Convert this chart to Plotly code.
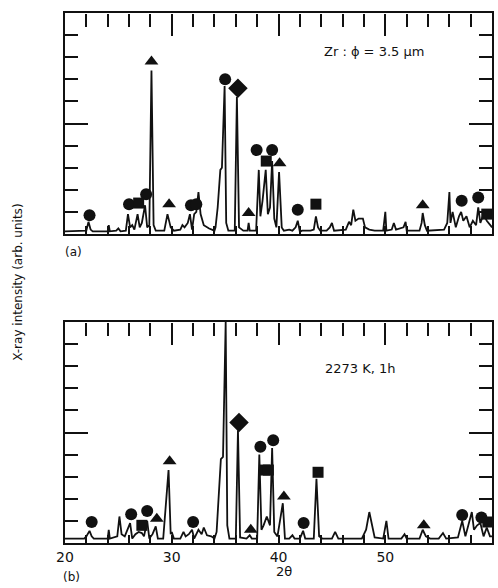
import plotly.graph_objects as go

# ---------------- data: panel (a) Zr powder, phi = 3.5 um ----------------
a_two_theta = [20.0, 21.5, 22.0, 22.2, 22.4, 22.6, 23.5, 24.0, 24.1, 24.2, 24.8, 25.0, 25.2,
               25.7, 25.9, 26.1, 26.3, 26.5, 26.8, 27.0, 27.2, 27.5, 27.7, 27.9, 28.1, 28.3,
               28.5, 29.3, 29.6, 29.9, 30.2, 30.8, 31.0, 31.2, 31.5, 31.7, 31.9, 32.1, 32.3,
               32.5, 32.7, 33.0, 33.5, 34.0, 34.1, 34.3, 34.55, 34.7, 34.95, 35.1, 35.3, 35.9,
               36.1, 36.3, 36.7, 37.1, 37.2, 37.3, 37.9, 38.15, 38.3, 38.5, 38.8, 39.0, 39.2,
               39.4, 39.6, 39.8, 40.05, 40.3, 40.5, 41.0, 41.3, 41.6, 41.8, 42.0, 42.2, 43.0,
               43.3, 43.5, 43.7, 43.9, 44.5, 44.8, 45.0, 45.2, 46.3, 46.6, 46.8, 47.0, 47.2,
               47.5, 47.9, 48.1, 48.5, 49.0, 49.8, 50.0, 50.1, 50.6, 50.8, 51.0, 51.7, 51.9,
               52.0, 53.2, 53.4, 53.5, 53.7, 53.9, 55.5, 55.8, 56.0, 56.1, 56.3, 56.6, 56.9,
               57.1, 57.3, 57.6, 57.9, 58.2, 58.5, 58.7, 58.9, 59.2, 59.5, 59.8, 60.0]
a_intensity = [0.12, 0.12, 0.15, 0.55, 0.2, 0.12, 0.12, 0.12, 0.4, 0.12, 0.15, 0.25, 0.12,
               0.15, 0.9, 0.3, 0.4, 0.2, 0.9, 0.3, 0.5, 1.3, 0.3, 0.4, 7.4, 0.4,
               0.15, 0.15, 0.9, 0.3, 0.15, 0.2, 0.4, 0.3, 0.5, 0.9, 0.2, 0.9, 1.0,
               1.9, 0.9, 0.4, 0.25, 0.15, 0.3, 1.2, 2.9, 3.0, 6.7, 0.5, 0.15, 0.15,
               6.2, 0.3, 0.15, 0.15, 0.5, 0.15, 0.15, 2.9, 0.8, 1.5, 2.9, 0.9, 1.2,
               3.3, 0.7, 0.3, 2.8, 0.3, 0.15, 0.2, 0.15, 0.3, 0.6, 0.1, 0.15, 0.15,
               0.2, 0.8, 0.3, 0.15, 0.15, 0.3, 0.5, 0.15, 0.2, 0.55, 0.4, 1.1, 0.6,
               0.7, 0.7, 0.3, 0.2, 0.15, 0.15, 1.0, 0.15, 0.2, 0.5, 0.2, 0.3, 0.55,
               0.15, 0.15, 0.5, 0.95, 0.4, 0.15, 0.2, 0.5, 1.9, 0.5, 1.0, 0.3, 0.8,
               1.0, 0.6, 0.8, 0.3, 0.6, 0.4, 1.2, 0.5, 0.9, 0.6, 0.4, 0.3]

a_circle_x = [22.3, 26.0, 27.6, 31.8, 32.3, 35.0, 37.95, 39.4, 41.8, 57.15, 58.7]
a_circle_y = [0.85, 1.35, 1.8, 1.3, 1.35, 7.0, 3.8, 3.8, 1.1, 1.5, 1.65]
a_square_x = [26.9, 38.85, 43.5, 59.5]
a_square_y = [1.4, 3.3, 1.35, 0.9]
a_triangle_x = [28.1, 29.75, 37.2, 40.1, 53.5]
a_triangle_y = [7.8, 1.35, 0.95, 3.2, 1.3]
a_diamond_x = [36.2]
a_diamond_y = [6.6]

# ---------------- data: panel (b) after 2273 K, 1 h ----------------
b_two_theta = [20.0, 21.8, 22.0, 22.3, 22.5, 22.7, 24.0, 24.1, 24.2, 24.9, 25.1, 25.3, 25.6,
               25.9, 26.1, 26.3, 26.6, 26.9, 27.2, 27.4, 27.7, 27.9, 28.2, 28.5, 28.7, 29.0,
               29.2, 29.7, 29.9, 30.0, 30.2, 30.8, 31.1, 31.3, 31.6, 31.9, 32.1, 32.5, 32.8,
               33.0, 33.3, 33.7, 34.0, 34.2, 34.4, 34.6, 34.8, 35.05, 35.2, 35.4, 36.0, 36.2,
               36.4, 37.0, 37.3, 37.5, 38.0, 38.2, 38.4, 38.6, 38.9, 39.2, 39.4, 39.6, 39.9,
               40.1, 40.4, 40.6, 41.0, 41.3, 41.5, 42.0, 42.3, 42.5, 43.3, 43.55, 43.8, 44.1,
               45.0, 45.3, 45.6, 47.8, 48.2, 48.5, 48.8, 49.0, 49.8, 50.1, 50.3, 51.5, 51.8,
               52.0, 53.2, 53.5, 53.8, 54.2, 55.0, 55.4, 55.7, 56.8, 57.2, 57.5, 58.1, 58.3,
               58.6, 58.9, 59.2, 59.5, 59.8, 60.0]
b_intensity = [0.2, 0.2, 0.3, 0.55, 0.3, 0.2, 0.2, 0.6, 0.2, 0.3, 1.2, 0.4, 0.3,
               0.7, 0.9, 0.2, 0.4, 0.5, 0.45, 0.3, 1.0, 0.2, 0.4, 0.75, 0.2, 0.2,
               0.2, 3.3, 0.4, 0.5, 0.2, 0.2, 0.5, 0.3, 0.4, 0.6, 0.2, 0.6, 0.4,
               0.7, 0.35, 0.3, 0.2, 0.5, 2.0, 3.8, 3.9, 10.0, 0.8, 0.2, 0.2, 5.1,
               0.25, 0.2, 0.35, 0.2, 0.2, 4.0, 0.6, 0.8, 1.2, 0.8, 4.3, 0.5, 0.3,
               0.9, 1.8, 0.2, 0.2, 0.35, 0.2, 0.2, 0.55, 0.2, 0.2, 2.9, 0.3, 0.2,
               0.2, 0.5, 0.2, 0.2, 0.6, 1.4, 0.7, 0.25, 0.2, 1.0, 0.2, 0.2, 0.4,
               0.2, 0.2, 0.6, 0.3, 0.2, 0.2, 0.45, 0.2, 0.25, 1.0, 0.3, 1.4, 0.6,
               0.8, 0.9, 0.3, 0.7, 0.3, 0.3]

b_circle_x = [22.5, 26.2, 27.7, 32.0, 38.3, 39.5, 42.35, 57.2, 59.0]
b_circle_y = [0.95, 1.3, 1.45, 0.95, 4.35, 4.65, 0.9, 1.27, 1.15]
b_top_circle_x = [35.1]          # this marker sits just above the frame
b_top_circle_y = [10.35]
b_square_x = [27.2, 38.7, 39.05, 43.7, 59.6]
b_square_y = [0.8, 3.3, 3.3, 3.2, 0.95]
b_triangle_x = [28.6, 29.8, 37.4, 40.5, 53.6]
b_triangle_y = [1.1, 3.7, 0.6, 2.1, 0.8]
b_diamond_x = [36.3]
b_diamond_y = [5.45]

x_range = [20, 60]
y_range = [0, 10]
x_label_vals = [20, 30, 40, 50, 60]
x_tick_labels = ["20", "30", "40", "50", "60"]
x_step_vals = [22, 24, 26, 28, 30, 32, 34, 36, 38, 40, 42, 44, 46, 48, 50, 52, 54, 56, 58]
x_long_vals = [30, 40, 50]

FONT = "DejaVu Sans"
INK = "#111111"

fig = go.Figure()

xdom = [57 / 498, 492 / 498]
ydom_a = [1 - 234 / 588, 1 - 13 / 588]
ydom_b = [1 - 543 / 588, 1 - 322 / 588]
THIN = 0.003

NOAX = dict(showline=False, ticks="", showticklabels=False, showgrid=False,
            zeroline=False, fixedrange=True)


def build_panel(n, xs, ys, marks, ydom, labels):
    xm = "x" if n == 0 else "x2"
    ym = "y" if n == 0 else "y2"
    xs_id = 3 + 2 * n        # short top ticks
    xl_id = 4 + 2 * n        # long top ticks

    fig.add_trace(go.Scatter(x=xs, y=ys, mode="lines", xaxis=xm, yaxis=ym,
                             line=dict(color=INK, width=1.8), hoverinfo="skip",
                             showlegend=False))
    for mx, my, sym, size, clip in marks:
        fig.add_trace(go.Scatter(x=mx, y=my, mode="markers", xaxis=xm, yaxis=ym,
                                 marker=dict(symbol=sym, size=size, color=INK,
                                             line=dict(width=0)),
                                 cliponaxis=clip, hoverinfo="skip", showlegend=False))
    for i in (xs_id, xl_id):
        fig.add_trace(go.Scatter(x=[], y=[], xaxis=f"x{i}", yaxis=f"y{i}",
                                 showlegend=False, hoverinfo="skip"))

    lay = {}
    lay["xaxis" if n == 0 else "xaxis2"] = dict(
        domain=xdom, range=x_range, anchor=ym, showline=True, linewidth=2,
        linecolor=INK, mirror=True, ticks="inside", ticklen=8, tickwidth=1.5,
        tickcolor=INK, tickmode="array", tickvals=x_label_vals, ticktext=x_tick_labels,
        showticklabels=labels, tickfont=dict(family=FONT, size=14, color=INK),
        minor=dict(dtick=2, ticks="inside", ticklen=8, tickwidth=1.5, tickcolor=INK,
                   showgrid=False),
        showgrid=False, zeroline=False, fixedrange=True)
    lay["yaxis" if n == 0 else "yaxis2"] = dict(
        domain=ydom, range=y_range, anchor=xm, showline=True, linewidth=2,
        linecolor=INK, mirror="allticks", ticks="inside", ticklen=23, tickwidth=1.5,
        tickcolor=INK, tickmode="linear", dtick=5, tick0=0, showticklabels=False,
        minor=dict(dtick=1, ticks="inside", ticklen=13, tickwidth=1.5, tickcolor=INK,
                   showgrid=False),
        showgrid=False, zeroline=False, fixedrange=True)
    for i, vals, ln in ((xs_id, x_step_vals, 13), (xl_id, x_long_vals, 22)):
        lay[f"xaxis{i}"] = dict(
            domain=xdom, range=x_range, anchor=f"y{i}", side="bottom", showline=False,
            ticks="outside", ticklen=ln, tickwidth=1.5, tickcolor=INK, tickmode="array",
            tickvals=vals, showticklabels=False, showgrid=False, zeroline=False,
            fixedrange=True)
        lay[f"yaxis{i}"] = dict(domain=[ydom[1], ydom[1] + THIN], range=[0, 1],
                                anchor=f"x{i}", **NOAX)
    fig.update_layout(**lay)


build_panel(0, a_two_theta, a_intensity,
            [(a_circle_x, a_circle_y, "circle", 12, True),
             (a_square_x, a_square_y, "square", 11, True),
             (a_triangle_x, a_triangle_y, "triangle-up", 12, True),
             (a_diamond_x, a_diamond_y, "diamond", 15, True)],
            ydom_a, False)
build_panel(1, b_two_theta, b_intensity,
            [(b_circle_x, b_circle_y, "circle", 12, True),
             (b_square_x, b_square_y, "square", 11, True),
             (b_triangle_x, b_triangle_y, "triangle-up", 12, True),
             (b_diamond_x, b_diamond_y, "diamond", 15, True),
             (b_top_circle_x, b_top_circle_y, "circle", 12, False)],
            ydom_b, True)

fig.update_layout(
    width=498, height=588,
    margin=dict(l=0, r=0, t=0, b=0),
    paper_bgcolor="white", plot_bgcolor="rgba(0,0,0,0)",
    showlegend=False,
    font=dict(family=FONT, color=INK),
)

annots = [
    dict(text="Zr : ϕ = 3.5 μm", x=372 / 498, y=1 - 52 / 588, size=13),
    dict(text="2273 K, 1h", x=358 / 498, y=1 - 368 / 588, size=13),
    dict(text="(a)", x=66 / 498, y=1 - 252 / 588, size=12),
    dict(text="(b)", x=64 / 498, y=1 - 577 / 588, size=12),
    dict(text="2θ", x=280 / 498, y=1 - 571 / 588, size=13),
]
for a in annots:
    fig.add_annotation(text=a["text"], x=a["x"], y=a["y"], xref="paper", yref="paper",
                       showarrow=False, xanchor="center", yanchor="middle",
                       font=dict(family=FONT, size=a["size"], color=INK))

fig.add_annotation(text="X-ray intensity (arb. units)", x=9 / 498, y=1 - 282 / 588,
                   xref="paper", yref="paper", showarrow=False, textangle=-90,
                   xanchor="center", yanchor="middle",
                   font=dict(family=FONT, size=12, color=INK))

fig.write_html("out.html")
